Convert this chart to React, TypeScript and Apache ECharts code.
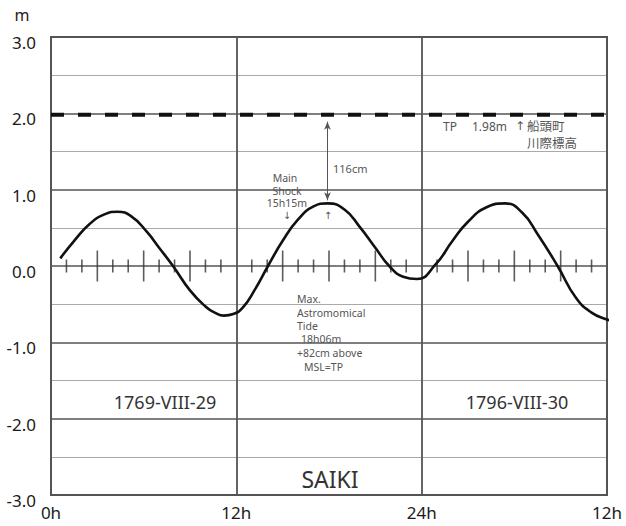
import React, { useEffect, useRef } from "react";
import * as echarts from "echarts";

// ---- data ----
const xTickHours = [0, 12, 24, 36];
const xTickLabels = ["0h", "12h", "24h", "12h"];

// predicted tide curve (hour, metres)
const tideHours = [0.6, 1.5, 2.5, 3.5, 4.3, 5.2, 6.2, 7.0, 7.9, 9.0, 10.0, 10.6, 11.2, 11.8, 12.4, 13.2, 14.05, 15.0, 16.0, 17.0, 17.9, 19.0, 20.0, 21.0, 21.9, 22.8, 23.7, 24.9, 26.0, 27.0, 28.2, 29.4, 30.5, 31.5, 32.8, 34.0, 35.0, 36.0, 36.5];
const tideLevels = [0.10, 0.33, 0.55, 0.68, 0.71, 0.65, 0.45, 0.24, 0.0, -0.32, -0.53, -0.61, -0.65, -0.63, -0.55, -0.31, 0.0, 0.33, 0.61, 0.78, 0.82, 0.74, 0.51, 0.24, 0.0, -0.14, -0.17, 0.02, 0.33, 0.58, 0.77, 0.82, 0.70, 0.42, 0.0, -0.42, -0.61, -0.70, -0.72];

// hour ticks drawn on the 0.0 line
const shortTickHours = [1, 2, 4, 5, 7, 8, 10, 11, 13, 14, 16, 17, 19, 20, 22, 23, 25, 26, 28, 29, 31, 32, 34, 35];
const longTickHours = [3, 6, 9, 15, 18, 21, 27, 30, 33];

const tpLevel = 1.98;
const maxTideHour = 17.9;
const maxTideLevel = 0.82;

const FONT = "'Noto Sans', 'Noto Sans CJK JP', sans-serif";
const ARROW_FONT = "'DejaVu Sans', 'Liberation Sans', sans-serif";
const UP = "\u2191\uFE0E";
const DOWN = "\u2193\uFE0E";

export default function App() {
  const ref = useRef<HTMLDivElement>(null);

  useEffect(() => {
    document.body.style.margin = "0";
    if (!ref.current) return;
    const chart = echarts.init(ref.current, null, { renderer: "svg" });

    const tideData = tideHours.map((h, i) => [h, tideLevels[i]]);
    const tickData = [
      ...shortTickHours.map((h) => ({ value: [h, 0], symbolSize: [1.6, 13] })),
      ...longTickHours.map((h) => ({ value: [h, 0], symbolSize: [1.6, 31] })),
    ];

    const txt = (
      text: string,
      x: number,
      y: number,
      size: number,
      color: string,
      align = "left",
      family = FONT
    ) => ({
      type: "text",
      x,
      y,
      silent: true,
      style: {
        text,
        fill: color,
        fontSize: size,
        fontFamily: family,
        textAlign: align,
        textVerticalAlign: "middle",
      },
    });

    const note = "#555";
    const maxLines = [
      ["Max.", 297, 299],
      ["Astromomical", 297, 313],
      ["Tide", 297, 326],
      ["18h06m", 301, 339],
      ["+82cm above", 297, 353],
      ["MSL=TP", 304, 367],
    ] as const;
    const shockLines = [
      ["Main", 285, 178],
      ["Shock", 287, 190.5],
      ["15h15m", 287, 203],
    ] as const;

    chart.setOption({
      animation: false,
      backgroundColor: "#fff",
      grid: {
        left: 51,
        right: 19,
        top: 37,
        bottom: 31,
        show: true,
        borderColor: "#555",
        borderWidth: 2,
        backgroundColor: "transparent",
      },
      xAxis: {
        type: "value",
        min: 0,
        max: 36,
        interval: 12,
        axisLine: { show: false },
        axisTick: { show: false },
        axisLabel: {
          margin: 9,
          fontSize: 17,
          color: "#1a1a1a",
          fontFamily: FONT,
          formatter: (v: number) => {
            const i = xTickHours.indexOf(v);
            return i >= 0 ? xTickLabels[i] : "";
          },
        },
        splitLine: { show: true, lineStyle: { color: "#555", width: 1.8 } },
      },
      yAxis: {
        type: "value",
        min: -3,
        max: 3,
        interval: 1,
        axisLine: { show: false },
        axisTick: { show: false },
        axisLabel: {
          margin: 15,
          fontSize: 17,
          color: "#1a1a1a",
          fontFamily: FONT,
          verticalAlign: "top",
          padding: [-3, 0, 0, 0],
          formatter: (v: number) => v.toFixed(1),
        },
        splitLine: { show: true, lineStyle: { color: "#555", width: 1.5 } },
        minorTick: { show: false, splitNumber: 2 },
        minorSplitLine: { show: true, lineStyle: { color: "#aaa", width: 1 } },
      },
      series: [
        {
          type: "scatter",
          silent: true,
          symbol: "rect",
          itemStyle: { color: "#333" },
          data: tickData,
          z: 2,
        },
        {
          type: "line",
          silent: true,
          symbol: "none",
          data: [[0, tpLevel], [36, tpLevel]],
          lineStyle: { color: "#111", width: 4, type: [13, 14] },
          z: 3,
        },
        {
          type: "line",
          silent: true,
          symbol: "none",
          data: [],
          markLine: {
            silent: true,
            symbol: ["arrow", "arrow"],
            symbolSize: [5, 8],
            label: { show: false },
            lineStyle: { color: "#555", width: 1, type: "solid" },
            data: [
              [
                { coord: [maxTideHour, tpLevel - 0.09] },
                { coord: [maxTideHour, maxTideLevel + 0.04] },
              ],
            ],
          },
          z: 3,
        },
        {
          type: "line",
          silent: true,
          symbol: "none",
          smooth: 0.5,
          clip: false,
          data: tideData,
          lineStyle: { color: "#111", width: 2.6 },
          z: 4,
        },
      ],
      graphic: [
        txt("m", 22, 15, 16, "#222", "center"),
        ...shockLines.map(([t, x, y]) => txt(t, x, y, 10.5, note, "center")),
        txt(DOWN, 287, 215, 10, note, "center", ARROW_FONT),
        txt("116cm", 333, 168, 11, note),
        txt(UP, 328, 215, 10, note, "center", ARROW_FONT),
        txt("TP", 443, 126, 12, note),
        txt("1.98m", 472, 126, 12, note),
        txt(UP, 520, 126, 12, note, "center", ARROW_FONT),
        txt("船頭町", 527, 126, 12.5, note),
        txt("川際標高", 527, 143, 12.5, note),
        ...maxLines.map(([t, x, y]) => txt(t, x, y, 10.5, note)),
        txt("1769-VIII-29", 165, 402, 18, "#333", "center"),
        txt("1796-VIII-30", 517, 402, 18, "#333", "center"),
        txt("SAIKI", 330, 479, 23, "#333", "center"),
      ],
    });

    return () => chart.dispose();
  }, []);

  return <div ref={ref} style={{ width: 626, height: 526 }} />;
}
